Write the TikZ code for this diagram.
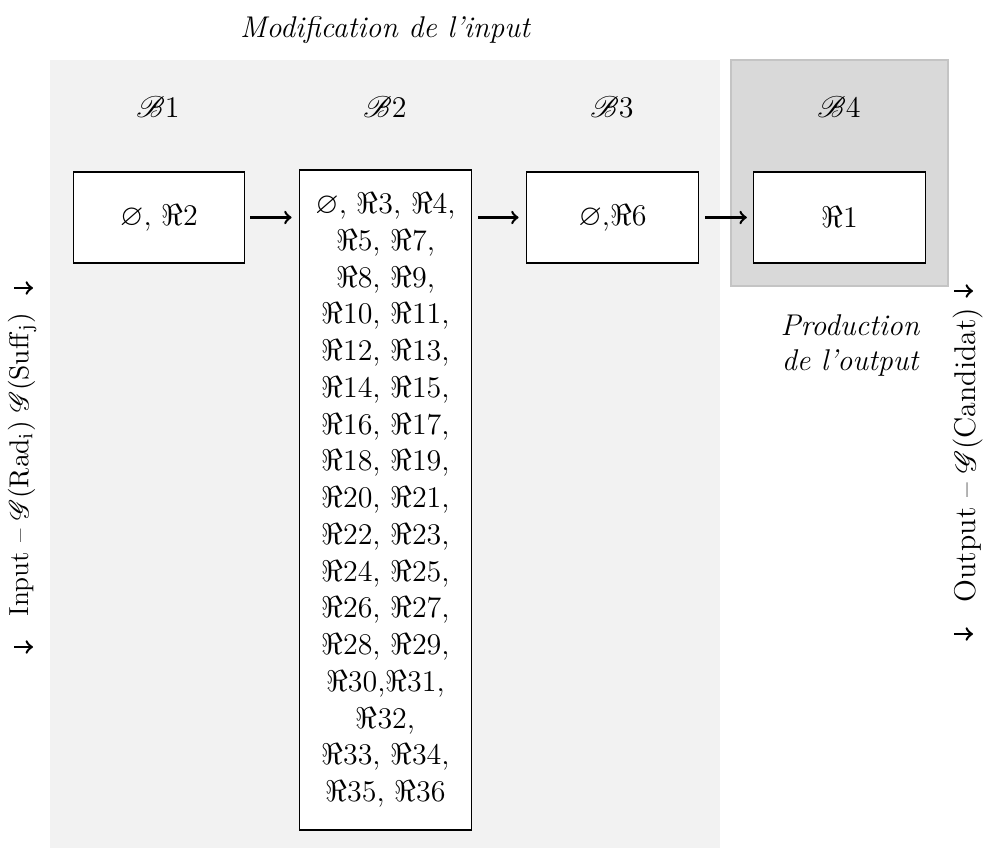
\documentclass[tikz,border=0pt]{standalone}
\usepackage{amsmath}
\usepackage{amssymb}
\usepackage{mathrsfs}
\usetikzlibrary{arrows}

\definecolor{fondclair}{HTML}{F2F2F2}
\definecolor{fondfonce}{HTML}{D9D9D9}
\definecolor{bordfonce}{HTML}{C4C4C4}

\newcommand{\R}[1]{$\Re#1$}

\tikzset{
	regle/.style={draw, fill=white, line width=0.5pt, minimum width=68.6pt, minimum height=36.4pt, align=center, inner sep=0pt},
	bloc/.style={font=\large},
	fleche/.style={line width=1pt, ->},
}

\begin{document}
\begin{tikzpicture}[x=0.4pt, y=-0.4pt]
	
	\useasboundingbox (0,0) rectangle (990,850);
	
	\fill[fondclair] (50,60) rectangle (720,848);
	\filldraw[fill=fondfonce, draw=bordfonce, line width=0.5pt] (731,60) rectangle (948,286);
	
	\node[font=\large\itshape] (titre) at (385,30) {Modification de l'input};
	
	\node[bloc] (l1) at (158,107) {$\mathscr{B}1$};
	\node[bloc] (l2) at (385,107) {$\mathscr{B}2$};
	\node[bloc] (l3) at (612,107) {$\mathscr{B}3$};
	\node[bloc] (l4) at (839,107) {$\mathscr{B}4$};
	
	\node[regle, font=\large] (b1) at (159,217.5) {$\varnothing$, \R{2}};
	\node[regle, minimum height=264pt, font=\fontsize{12}{14.7}\selectfont] (b2) at (385.5,500) {
		$\varnothing$, \R{3}, \R{4},\\ \R{5}, \R{7},\\ \R{8}, \R{9},\\ \R{10}, \R{11},\\
		\R{12}, \R{13},\\ \R{14}, \R{15},\\ \R{16}, \R{17},\\ \R{18}, \R{19},\\
		\R{20}, \R{21},\\ \R{22}, \R{23},\\ \R{24}, \R{25},\\ \R{26}, \R{27},\\
		\R{28}, \R{29},\\ \R{30},\R{31},\\ \R{32},\\ \R{33}, \R{34},\\ \R{35}, \R{36}};
	\node[regle, font=\large] (b3) at (612.5,217.5) {$\varnothing$,\R{6}};
	\node[regle, font=\large] (b4) at (839.5,217.5) {\R{1}};
	
	\draw[fleche, shorten <=2pt, shorten >=3pt] (b1) -- (b2.west |- b1);
	\draw[fleche, shorten <=2.5pt, shorten >=3pt] (b2.east |- b3) -- (b3);
	\draw[fleche, shorten <=2.5pt, shorten >=2.5pt] (b3) -- (b4);
	
	\node[font=\large\itshape, align=center] (prod) at (850,346) {Production\\de l'output};
	
	% entree et sortie
	\node[rotate=90, font=\fontsize{11}{13}\selectfont] (entree) at (22,465) {Input -- $\mathscr{G}(\mathrm{Rad}_\mathrm{i})$ $\mathscr{G}(\mathrm{Suff}_\mathrm{j})$};
	\node[rotate=90, font=\large] (sortie) at (968,455) {Output -- $\mathscr{G}$(Candidat)};
	
	\coordinate (e1) at (14,288);
	\coordinate (e2) at (14,647);
	\coordinate (s1) at (954,291);
	\coordinate (s2) at (954,634);
	\draw[fleche] (e1) -- ++(19,0);
	\draw[fleche] (e2) -- ++(19,0);
	\draw[fleche] (s1) -- ++(19,0);
	\draw[fleche] (s2) -- ++(19,0);
	
\end{tikzpicture}
\end{document}
